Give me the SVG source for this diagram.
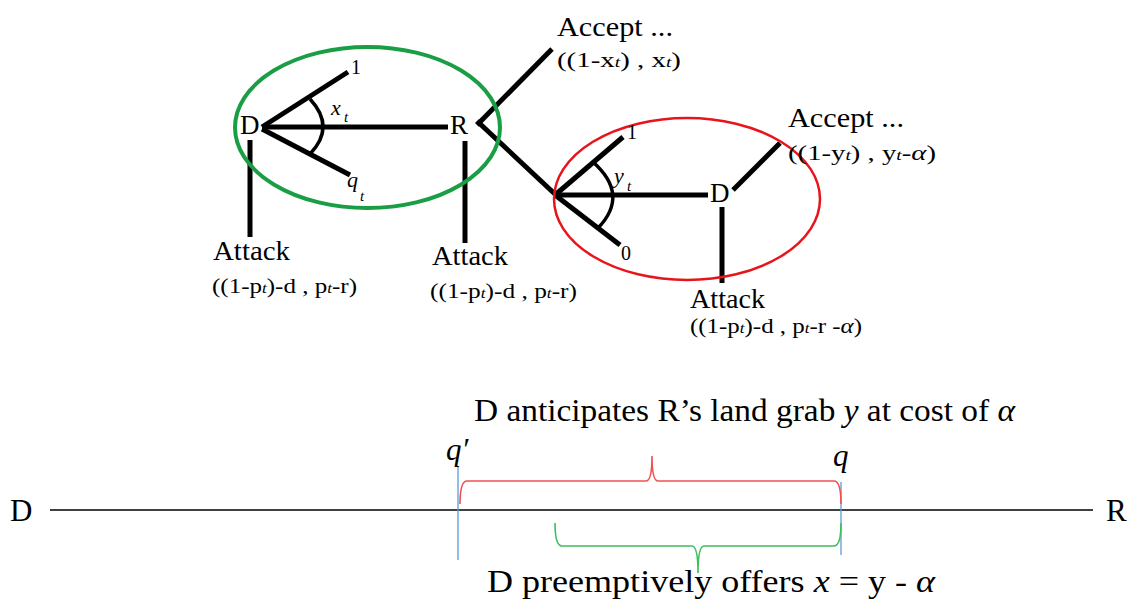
<svg xmlns="http://www.w3.org/2000/svg" width="1129" height="606" viewBox="0 0 1129 606" font-family="'Liberation Serif', Tinos, 'Times New Roman', Times, serif">
  <style>
    text { font-family: "Liberation Serif", Tinos, "Times New Roman", Times, serif; fill: #000; }
    .i { font-style: italic; }
    .edge { stroke: #000; stroke-width: 5; fill: none; }
    .arc { stroke: #000; stroke-width: 3.5; fill: none; }
    .lbl { font-size: 27px; }
    .pay { font-size: 22px; }
    .sub { font-size: 15px; font-style: italic; }
    .big { font-size: 31px; }
  </style>
  <rect width="1129" height="606" fill="#fff"/>

  <!-- game tree connectors -->
  <g id="connectors">
    <!-- first D: offer fan -->
    <line class="edge" x1="262" y1="127" x2="448" y2="127"/>
    <line class="edge" x1="262" y1="127" x2="348" y2="72"/>
    <line class="edge" x1="262" y1="129" x2="350" y2="175"/>
    <path class="arc" d="M310,99 Q336,127 310,154"/>
    <line class="edge" x1="250" y1="140" x2="250" y2="237"/>
    <!-- R: accept / attack / grab -->
    <line class="edge" x1="477" y1="125" x2="552" y2="49"/>
    <line class="edge" x1="477" y1="121" x2="557" y2="196"/>
    <line class="edge" x1="465" y1="141" x2="465" y2="243"/>
    <!-- grab fan -->
    <line class="edge" x1="555" y1="195" x2="708" y2="195"/>
    <line class="edge" x1="555" y1="195" x2="623" y2="137"/>
    <line class="edge" x1="555" y1="195" x2="620" y2="245"/>
    <path class="arc" d="M593,162 Q630,195 598,228"/>
    <!-- second D -->
    <line class="edge" x1="733" y1="190" x2="780" y2="143"/>
    <line class="edge" x1="722" y1="207" x2="722" y2="283"/>
  </g>

  <!-- highlighted sub-games -->
  <ellipse id="green-ring" cx="367.5" cy="127.5" rx="132.5" ry="80.5" fill="none" stroke="#1a9e45" stroke-width="4"/>
  <ellipse id="red-ring" cx="687" cy="199" rx="133" ry="81" fill="none" stroke="#e8141c" stroke-width="2.5"/>

  <g id="node-D1">
    <text class="lbl" x="240" y="134">D</text>
    <text x="351" y="74" font-size="20">1</text>
    <text class="i" x="331" y="115" font-size="22">x<tspan class="sub" x="344" y="122">t</tspan></text>
    <text class="i" x="347" y="187" font-size="22">q<tspan class="sub" x="360" y="201">t</tspan></text>
  </g>

  <g id="node-R">
    <text class="lbl" x="450" y="134">R</text>
  </g>

  <g id="node-grab">
    <text x="627" y="139" font-size="20">1</text>
    <text x="621" y="260" font-size="20">0</text>
    <text class="i" x="614" y="183" font-size="22">y<tspan class="sub" x="627" y="191">t</tspan></text>
  </g>

  <g id="node-D2">
    <text class="lbl" x="710" y="202">D</text>
  </g>

  <g id="leaf-accept-1">
    <text class="lbl" x="557" y="36" textLength="116" lengthAdjust="spacingAndGlyphs">Accept ...</text>
    <text class="pay" x="557" y="67" textLength="124" lengthAdjust="spacingAndGlyphs">((1-x<tspan class="sub">t</tspan>) , x<tspan class="sub">t</tspan>)</text>
  </g>

  <g id="leaf-accept-2">
    <text class="lbl" x="788" y="127" textLength="116" lengthAdjust="spacingAndGlyphs">Accept ...</text>
    <text class="pay" x="788" y="160" textLength="148" lengthAdjust="spacingAndGlyphs">((1-y<tspan class="sub">t</tspan>) , y<tspan class="sub">t</tspan>-<tspan class="i">α</tspan>)</text>
  </g>

  <g id="leaf-attack-1">
    <text class="lbl" x="213" y="260" textLength="77" lengthAdjust="spacingAndGlyphs">Attack</text>
    <text class="pay" x="212" y="293" textLength="145" lengthAdjust="spacingAndGlyphs">((1-p<tspan class="sub">t</tspan>)-d , p<tspan class="sub">t</tspan>-r)</text>
  </g>

  <g id="leaf-attack-2">
    <text class="lbl" x="432" y="265" textLength="76" lengthAdjust="spacingAndGlyphs">Attack</text>
    <text class="pay" x="430" y="298" textLength="147" lengthAdjust="spacingAndGlyphs">((1-p<tspan class="sub">t</tspan>)-d , p<tspan class="sub">t</tspan>-r)</text>
  </g>

  <g id="leaf-attack-3">
    <text class="lbl" x="690" y="308" textLength="75" lengthAdjust="spacingAndGlyphs">Attack</text>
    <text class="pay" x="690" y="333" textLength="172" lengthAdjust="spacingAndGlyphs">((1-p<tspan class="sub">t</tspan>)-d , p<tspan class="sub">t</tspan>-r -<tspan class="i">α</tspan>)</text>
  </g>

  <!-- bargaining line -->
  <g id="bargain-line">
    <line x1="50" y1="510" x2="1093" y2="510" stroke="#000" stroke-width="1.6"/>
    <text class="big" x="10" y="521">D</text>
    <text class="big" x="1106" y="521">R</text>
    <line x1="458" y1="467" x2="458" y2="560" stroke="#5b9bd5" stroke-width="1.3"/>
    <line x1="841" y1="482" x2="841" y2="555" stroke="#5b9bd5" stroke-width="1.3"/>
    <text class="i big" x="446" y="460">q′</text>
    <text class="i big" x="833" y="466">q</text>
    <!-- brace above: anticipated grab -->
    <path d="M460,504 Q460,481 467,481 L646,481 Q652,481 652,456 Q652,481 658,481 L834,481 Q841,481 841,504" fill="none" stroke="#f05050" stroke-width="1.6"/>
    <!-- brace below: preemptive offer -->
    <path d="M555,523 Q555,546 562,546 L692,546 Q698,546 698,573 Q698,546 704,546 L834,546 Q841,546 841,523" fill="none" stroke="#3cbf5c" stroke-width="1.6"/>
    <text class="big" x="474" y="421" textLength="541" lengthAdjust="spacingAndGlyphs">D anticipates R’s land grab <tspan class="i">y</tspan> at cost of <tspan class="i">α</tspan></text>
    <text class="big" x="487" y="592" textLength="448" lengthAdjust="spacingAndGlyphs">D preemptively offers <tspan class="i">x</tspan> = y - <tspan class="i">α</tspan></text>
  </g>
</svg>
